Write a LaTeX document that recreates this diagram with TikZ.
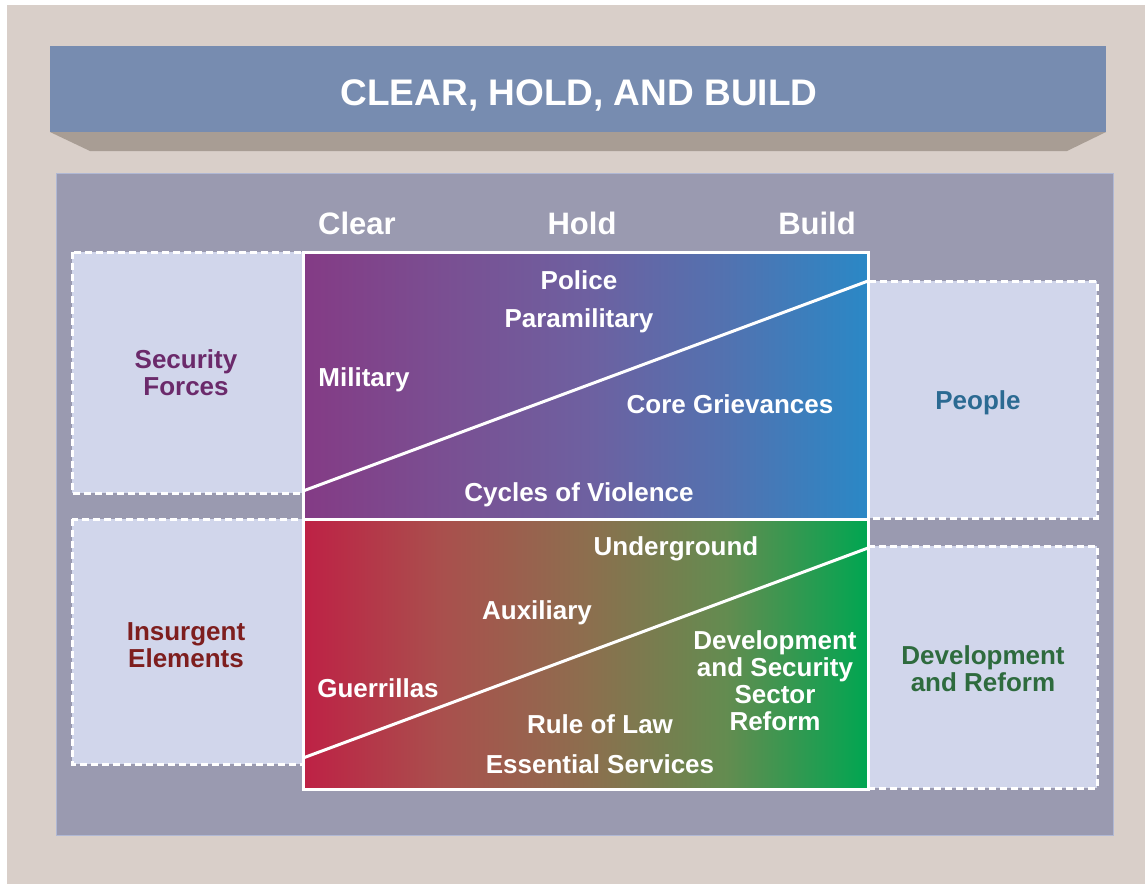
\documentclass[tikz,border=0pt]{standalone}
\usepackage{fontspec}
\setmainfont{Liberation Sans}
\definecolor{beige}{HTML}{D9CFC9}
\definecolor{titlebar}{HTML}{778CB0}
\definecolor{shadowc}{HTML}{A89D94}
\definecolor{panel}{HTML}{9A9AB0}
\definecolor{panelborder}{HTML}{B0B8D4}
\definecolor{sidebox}{HTML}{D1D6EB}
\definecolor{upA}{HTML}{843B85}
\definecolor{upB}{HTML}{7A4F92}
\definecolor{upC}{HTML}{6E60A0}
\definecolor{upD}{HTML}{5272B0}
\definecolor{upE}{HTML}{2A88C6}
\definecolor{loA}{HTML}{BE2145}
\definecolor{loB}{HTML}{A9504D}
\definecolor{loC}{HTML}{8D6E4E}
\definecolor{loD}{HTML}{638C50}
\definecolor{loE}{HTML}{00A651}
\definecolor{secc}{HTML}{6B2A6B}
\definecolor{peoc}{HTML}{2B6A92}
\definecolor{insc}{HTML}{7E1E1E}
\definecolor{devc}{HTML}{2E6B3E}
\pgfdeclarehorizontalshading{upshade}{100bp}{color(0bp)=(upA); color(25bp)=(upA); color(37.5bp)=(upB); color(50bp)=(upC); color(62.5bp)=(upD); color(75bp)=(upE); color(100bp)=(upE)}
\pgfdeclarehorizontalshading{loshade}{100bp}{color(0bp)=(loA); color(25bp)=(loA); color(37.5bp)=(loB); color(50bp)=(loC); color(62.5bp)=(loD); color(75bp)=(loE); color(100bp)=(loE)}
\tikzset{
  sidedash/.style={fill=sidebox, draw=white, line width=3pt, dash pattern=on 7pt off 4pt},
  wtxt/.style={text=white, font=\fontsize{26}{27}\selectfont\bfseries, align=center, inner sep=0pt, yshift=-3pt},
  ctxt/.style={font=\fontsize{26}{27}\selectfont\bfseries, align=center, inner sep=0pt, yshift=-2pt},
  head/.style={text=white, font=\fontsize{31}{33}\selectfont\bfseries, inner sep=0pt, yshift=-1pt},
  diag/.style={draw=white, line width=3pt},
}
\begin{document}
\begin{tikzpicture}[x=1pt,y=-1pt]
\useasboundingbox (0,0) rectangle (1145,884);
\fill[white] (0,0) rectangle (1145,884);
\fill[beige] (7,5) rectangle (1145,884);
% title bar
\fill[shadowc] (50,132) -- (1106,132) -- (1067,151) -- (90,151) -- cycle;
\fill[titlebar] (50,46) rectangle (1106,132);
\node[head, font=\fontsize{37}{39}\selectfont\bfseries, yshift=-2pt] (title) at (579,92) {CLEAR, HOLD, AND BUILD};
% panel
\draw[fill=panel, draw=panelborder, line width=1pt] (56,173) rectangle (1113,835);
% headings
\node[head] (clear) at (357,222) {Clear};
\node[head] (hold) at (582,222) {Hold};
\node[head] (build) at (817,222) {Build};
% side boxes
\path[sidedash] (72,252) rectangle (303,493);
\path[sidedash] (72,519) rectangle (303,764);
\path[sidedash] (868,281) rectangle (1097,518);
\path[sidedash] (868,546) rectangle (1097,788);
% center gradient boxes
\shade[shading=upshade] (303,252) rectangle (868,519);
\shade[shading=loshade] (303,519) rectangle (868,789);
\coordinate (uA) at (303,491);
\coordinate (uB) at (868,281);
\coordinate (lA) at (303,758);
\coordinate (lB) at (868,548);
\draw[diag] (uA) -- (uB);
\draw[diag] (lA) -- (lB);
\draw[draw=white, line width=3pt] (303,252) rectangle (868,789);
\draw[draw=white, line width=3pt] (303,519) -- (868,519);
% side labels
\node[ctxt, text=secc] (sec) at (186,371) {Security\\Forces};
\node[ctxt, text=peoc] (peo) at (978,401) {People};
\node[ctxt, text=insc] (ins) at (186,643) {Insurgent\\Elements};
\node[ctxt, text=devc] (dev) at (983,667) {Development\\and Reform};
% upper labels
\node[wtxt] (police) at (579,277) {Police};
\node[wtxt] (para) at (579,318) {Paramilitary};
\node[wtxt] (mil) at (364,377) {Military};
\node[wtxt] (core) at (730,401) {Core Grievances};
\node[wtxt] (cyc) at (579,492) {Cycles of Violence};
% lower labels
\node[wtxt] (under) at (676,546) {Underground};
\node[wtxt] (aux) at (537,610) {Auxiliary};
\node[wtxt] (dsr) at (775,678) {Development\\and Security\\Sector\\Reform};
\node[wtxt] (guer) at (378,685) {Guerrillas};
\node[wtxt] (rule) at (600,721) {Rule of Law};
\node[wtxt] (ess) at (600,761) {Essential Services};
\end{tikzpicture}
\end{document}
